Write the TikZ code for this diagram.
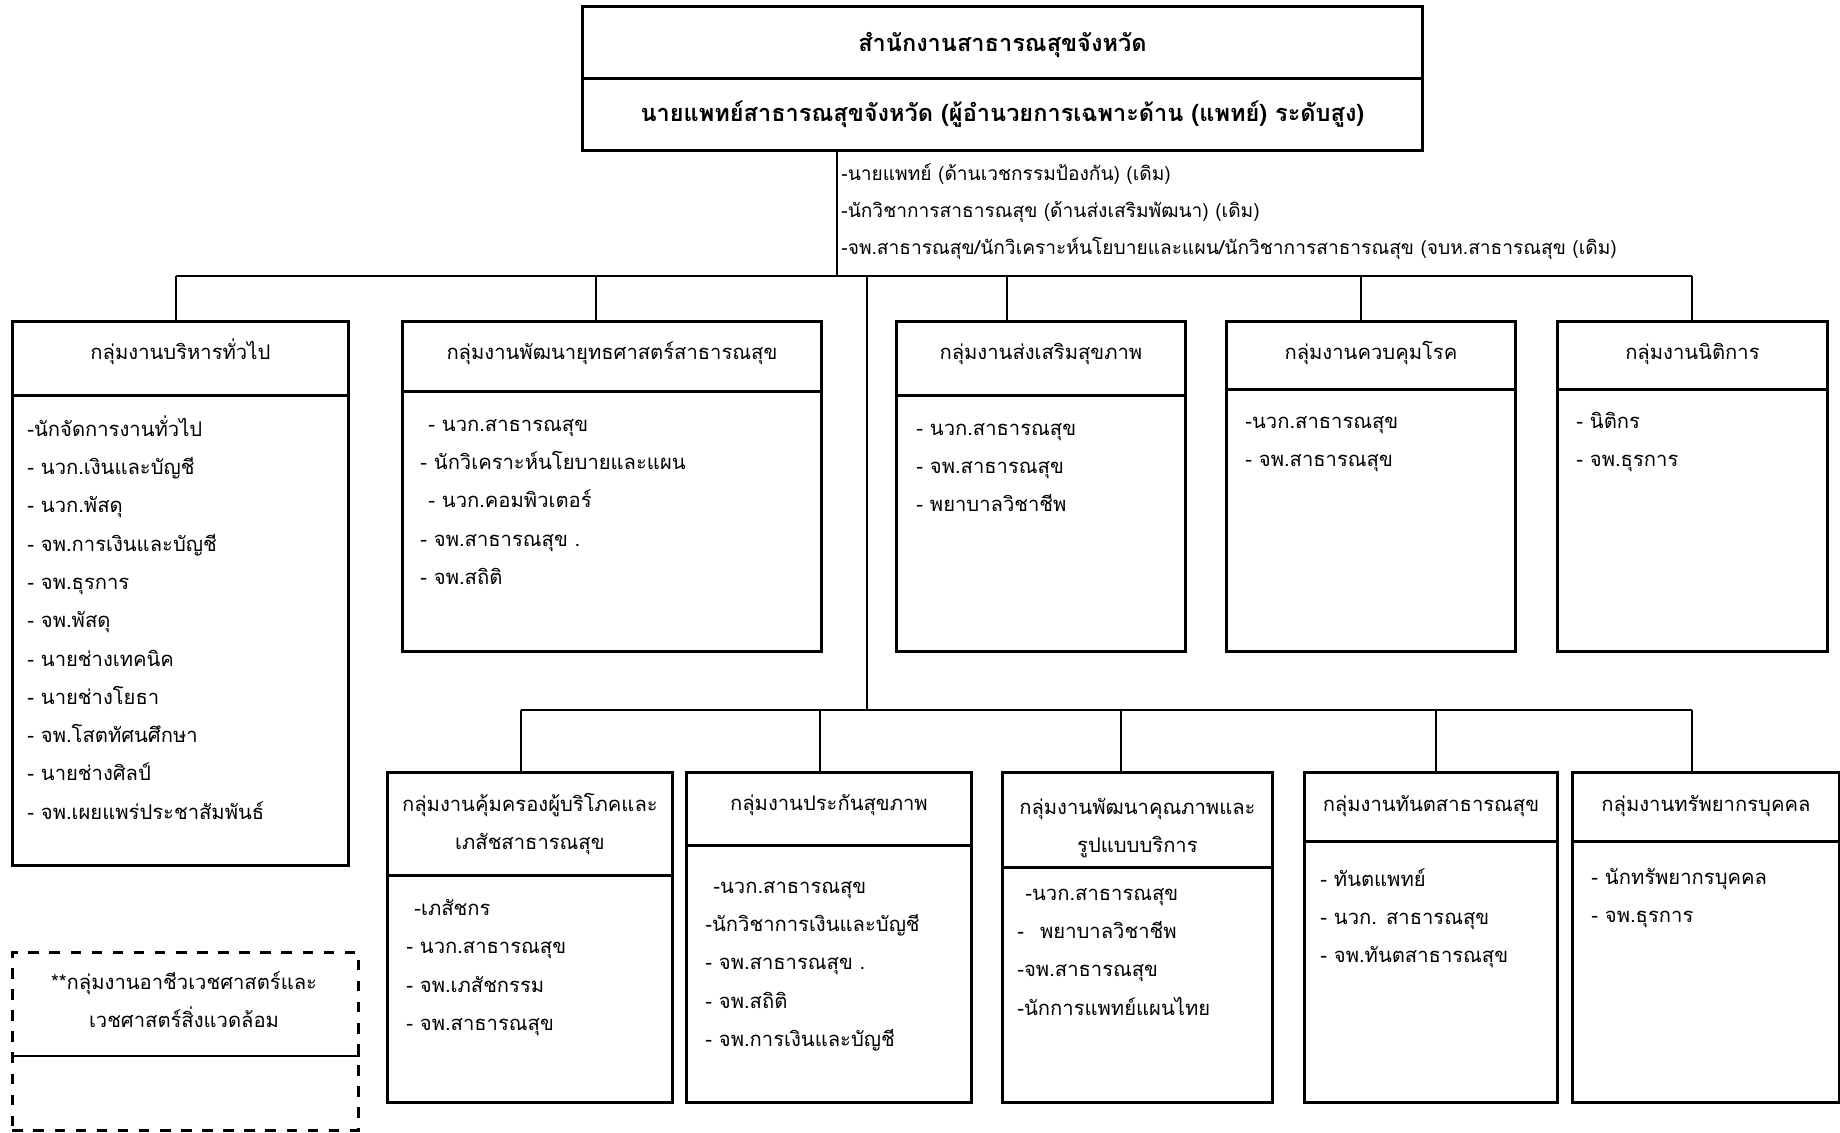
\documentclass[tikz,border=0pt]{standalone}
\usepackage{fontspec}
\newfontfamily\thaifont[Script=Thai]{Loma}
\newcommand{\ind}{\hspace*{0.8mm}}
\newcommand{\up}[2]{\raisebox{#1}[\height][\depth]{#2}}
\begin{document}
\begin{tikzpicture}[line width=0.8pt]
    \tikzstyle{box}=[draw,shape=rectangle,inner sep=0pt,anchor=north west]
    \tikzstyle{bigtitle}=[font=\thaifont\bfseries\fontsize{6.7}{9}\selectfont]
    \tikzstyle{head}=[box,align=center,font=\thaifont\fontsize{5.75}{10.9}\selectfont]
    \tikzstyle{items}=[anchor=north west,inner sep=0pt,align=left,font=\thaifont\fontsize{5.75}{10.9}\selectfont]
    \useasboundingbox (0,0) rectangle (18.40,-11.32);

    % top of the chart
    \node at (5.81, -0.05) (office) [box,bigtitle,minimum width=8.40cm,minimum height=0.72cm] {\up{-0.7pt}{สำนักงานสาธารณสุขจังหวัด}};
    \node at (5.81, -0.77) (chief) [box,bigtitle,minimum width=8.40cm,minimum height=0.72cm] {นายแพทย์สาธารณสุขจังหวัด (ผู้อำนวยการเฉพาะด้าน (แพทย์) ระดับสูง)};
    \node at (8.40, -1.62) (notes) [items,font=\thaifont\fontsize{5.45}{10.6}\selectfont] {-นายแพทย์ (ด้านเวชกรรมป้องกัน) (เดิม)\\-นักวิชาการสาธารณสุข (ด้านส่งเสริมพัฒนา) (เดิม)\\-จพ.สาธารณสุข/นักวิเคราะห์นโยบายและแผน/นักวิชาการสาธารณสุข (จบห.สาธารณสุข (เดิม)};

    % upper row
    \node at (0.11, -3.20)  (g1h) [head,minimum width=3.36cm,minimum height=0.74cm] {\up{2pt}{กลุ่มงานบริหารทั่วไป}};
    \node at (0.11, -3.94)  (g1b) [box,minimum width=3.36cm,minimum height=4.70cm] {};
    \node at (0.26, -4.14)  (g1l) [items] {-นักจัดการงานทั่วไป\\- นวก.เงินและบัญชี\\- นวก.พัสดุ\\- จพ.การเงินและบัญชี\\- จพ.ธุรการ\\- จพ.พัสดุ\\- นายช่างเทคนิค\\- นายช่างโยธา\\- จพ.โสตทัศนศึกษา\\- นายช่างศิลป์\\- จพ.เผยแพร่ประชาสัมพันธ์};

    \node at (4.01, -3.20)  (g2h) [head,minimum width=4.19cm,minimum height=0.70cm] {\up{1pt}{กลุ่มงานพัฒนายุทธศาสตร์สาธารณสุข}};
    \node at (4.01, -3.90)  (g2b) [box,minimum width=4.19cm,minimum height=2.60cm] {};
    \node at (4.19, -4.18)  (g2l) [items] {\ind- นวก.สาธารณสุข\\- นักวิเคราะห์นโยบายและแผน\\\ind- นวก.คอมพิวเตอร์\\- จพ.สาธารณสุข .\\- จพ.สถิติ};

    \node at (8.95, -3.20)  (g3h) [head,minimum width=2.89cm,minimum height=0.74cm] {\up{1.3pt}{กลุ่มงานส่งเสริมสุขภาพ}};
    \node at (8.95, -3.94)  (g3b) [box,minimum width=2.89cm,minimum height=2.56cm] {};
    \node at (9.15, -4.22)  (g3l) [items] {- นวก.สาธารณสุข\\- จพ.สาธารณสุข\\- พยาบาลวิชาชีพ};

    \node at (12.25, -3.20) (g4h) [head,minimum width=2.89cm,minimum height=0.68cm] {\up{0.7pt}{กลุ่มงานควบคุมโรค}};
    \node at (12.25, -3.88) (g4b) [box,minimum width=2.89cm,minimum height=2.62cm] {};
    \node at (12.44, -4.15) (g4l) [items] {-นวก.สาธารณสุข\\- จพ.สาธารณสุข};

    \node at (15.56, -3.20) (g5h) [head,minimum width=2.70cm,minimum height=0.68cm] {\up{0.3pt}{กลุ่มงานนิติการ}};
    \node at (15.56, -3.88) (g5b) [box,minimum width=2.70cm,minimum height=2.62cm] {};
    \node at (15.75, -4.11) (g5l) [items] {- นิติกร\\- จพ.ธุรการ};

    % lower row
    \node at (3.86, -7.71)  (g6h) [head,minimum width=2.85cm,minimum height=1.03cm] {กลุ่มงานคุ้มครองผู้บริโภคและ\\เภสัชสาธารณสุข};
    \node at (3.86, -8.74)  (g6b) [box,minimum width=2.85cm,minimum height=2.27cm] {};
    \node at (4.05, -8.98)  (g6l) [items] {\ind-เภสัชกร\\- นวก.สาธารณสุข\\- จพ.เภสัชกรรม\\- จพ.สาธารณสุข};

    \node at (6.85, -7.71)  (g7h) [head,minimum width=2.85cm,minimum height=0.73cm] {\up{1pt}{กลุ่มงานประกันสุขภาพ}};
    \node at (6.85, -8.44)  (g7b) [box,minimum width=2.85cm,minimum height=2.57cm] {};
    \node at (7.04, -8.80)  (g7l) [items] {\ind-นวก.สาธารณสุข\\-นักวิชาการเงินและบัญชี\\- จพ.สาธารณสุข .\\- จพ.สถิติ\\- จพ.การเงินและบัญชี};

    \node at (10.01, -7.71) (g8h) [head,minimum width=2.70cm,minimum height=0.95cm] {\up{-1.7pt}{\begin{tabular}{@{}c@{}}กลุ่มงานพัฒนาคุณภาพและ\\รูปแบบบริการ\end{tabular}}};
    \node at (10.01, -8.66) (g8b) [box,minimum width=2.70cm,minimum height=2.35cm] {};
    \node at (10.16, -8.87) (g8l) [items] {\ind-นวก.สาธารณสุข\\-\ind\ind พยาบาลวิชาชีพ\\-จพ.สาธารณสุข\\-นักการแพทย์แผนไทย};

    \node at (13.03, -7.71) (g9h) [head,minimum width=2.53cm,minimum height=0.69cm] {\up{0.3pt}{กลุ่มงานทันตสาธารณสุข}};
    \node at (13.03, -8.40) (g9b) [box,minimum width=2.53cm,minimum height=2.61cm] {};
    \node at (13.19, -8.67) (g9l) [items] {- ทันตแพทย์\\- นวก. สาธารณสุข\\- จพ.ทันตสาธารณสุข};

    \node at (15.71, -7.71) (g10h) [head,minimum width=2.67cm,minimum height=0.69cm] {\up{0.3pt}{กลุ่มงานทรัพยากรบุคคล}};
    \node at (15.71, -8.40) (g10b) [box,minimum width=2.67cm,minimum height=2.61cm] {};
    \node at (15.90, -8.67) (g10l) [items] {- นักทรัพยากรบุคคล\\- จพ.ธุรการ};

    % occupational medicine, not yet set up
    \node at (0.11, -9.51) (occ) [box,dashed,minimum width=3.46cm,minimum height=1.78cm] {};
    \node at (1.84, -10.00) (occt) [align=center,inner sep=0pt,font=\thaifont\fontsize{5.75}{10.9}\selectfont] {**กลุ่มงานอาชีวเวชศาสตร์และ\\เวชศาสตร์สิ่งแวดล้อม};
    \draw ([yshift=-1.05cm]occ.north west) -- ([yshift=-1.05cm]occ.north east);

    % lines
    \coordinate (bar) at (8.37, -2.76);
    \coordinate (t1) at (8.67, -2.76);
    \coordinate (t2) at (8.67, -7.10);
    \coordinate (d1) at (1.76, -2.76);
    \coordinate (d2) at (5.96, -2.76);
    \coordinate (d3) at (10.07, -2.76);
    \coordinate (d4) at (13.61, -2.76);
    \coordinate (d5) at (16.92, -2.76);
    \coordinate (e6) at (5.21, -7.10);
    \coordinate (e7) at (8.20, -7.10);
    \coordinate (e8) at (11.21, -7.10);
    \coordinate (e9) at (14.36, -7.10);
    \coordinate (e10) at (16.92, -7.10);

    \draw (chief.south -| bar) to (bar);
    \draw (d1) to (d5);
    \draw (t1) to (t2);
    \draw (e6) to (e10);
    \draw (d1) to (g1h.north -| d1);
    \draw (d2) to (g2h.north -| d2);
    \draw (d3) to (g3h.north -| d3);
    \draw (d4) to (g4h.north -| d4);
    \draw (d5) to (g5h.north -| d5);
    \draw (e6) to (g6h.north -| e6);
    \draw (e7) to (g7h.north -| e7);
    \draw (e8) to (g8h.north -| e8);
    \draw (e9) to (g9h.north -| e9);
    \draw (e10) to (g10h.north -| e10);
\end{tikzpicture}
\end{document}
